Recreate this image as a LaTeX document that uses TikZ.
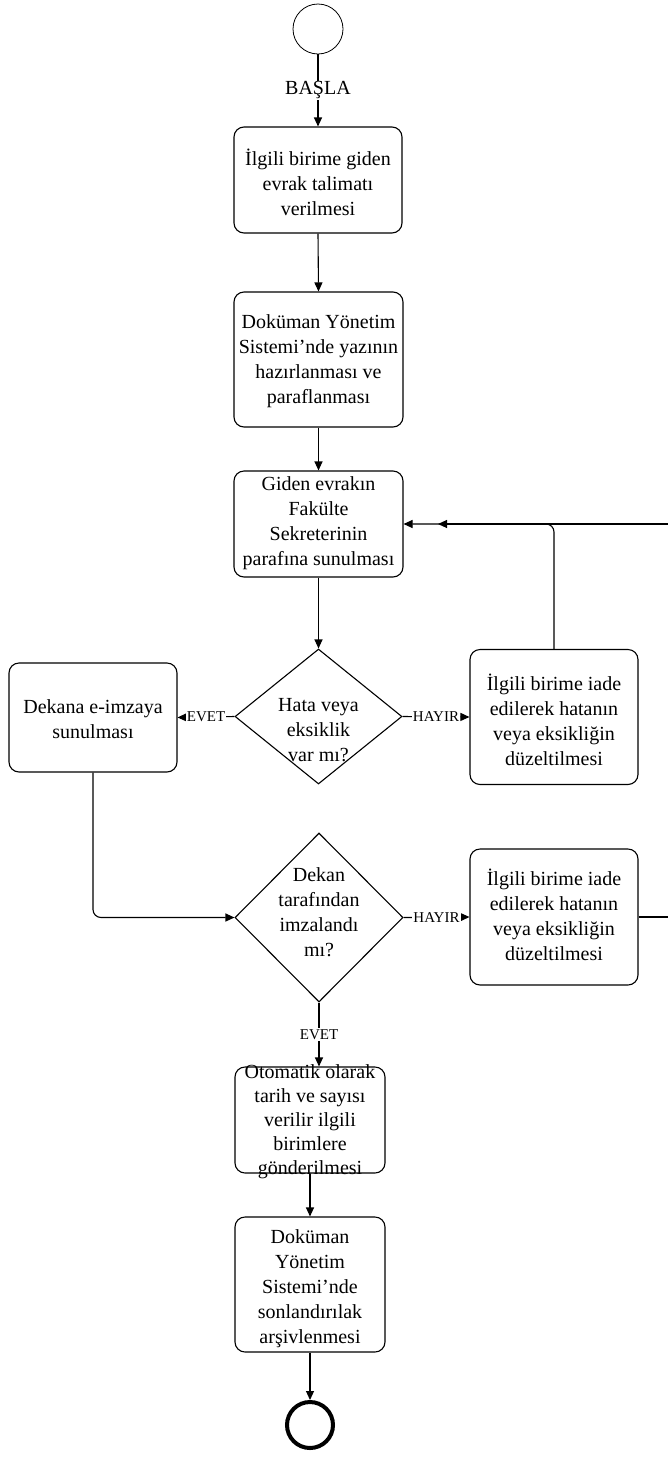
\documentclass[tikz,border=0pt]{standalone}
\usepackage{fontspec}
\setmainfont{Liberation Serif}
\usetikzlibrary{shapes.geometric,arrows.meta}
\begin{document}
\begin{tikzpicture}[x=1pt,y=-1pt,
 box/.style={draw, rounded corners=10pt, line width=1.1pt, inner sep=0pt},
 txt/.style={align=center, font=\fontsize{20}{25}\selectfont, inner sep=0pt},
 dia/.style={draw, diamond, line width=1.1pt, inner sep=0pt},
 lbl/.style={fill=white, font=\fontsize{15}{18}\selectfont, inner sep=1pt},
 arr/.style={line width=1.1pt, -{Triangle[length=9pt,width=8pt]}},
 ln/.style={line width=1.1pt}]
\useasboundingbox (0,0) rectangle (667,1457);
% start / end
\node[circle, draw, minimum size=50pt, line width=0.8pt, inner sep=0pt] (st) at (318,29) {};
\node[circle, draw, minimum size=46pt, line width=4pt, inner sep=0pt] (en) at (310,1425) {};
% boxes
\node[box, minimum width=168pt, minimum height=106pt] (b1) at (318,180) {};
\node[txt] (b1t) at (318,182) {İlgili birime giden\\evrak talimatı\\verilmesi};
\node[box, minimum width=169pt, minimum height=135pt] (b2) at (318.5,359.5) {};
\node[txt] (b2t) at (318.5,361) {Doküman Yönetim\\Sistemi’nde yazının\\hazırlanması ve\\paraflanması};
\node[box, minimum width=169pt, minimum height=106pt] (b3) at (318.5,524) {};
\node[txt] (b3t) at (318.5,523) {Giden evrakın\\Fakülte\\Sekreterinin\\parafına sunulması};
\node[dia, minimum width=167pt, minimum height=135pt] (d1) at (318.5,716.5) {};
\node[txt] (d1t) at (318.5,730) {Hata veya\\eksiklik\\var mı?};
\node[box, minimum width=168pt, minimum height=109pt] (dek) at (93,717.5) {};
\node[txt] (dekt) at (93,719) {Dekana e-imzaya\\sunulması};
\node[box, minimum width=168pt, minimum height=135pt] (i1) at (554,717) {};
\node[txt] (i1t) at (554,720) {İlgili birime iade\\edilerek hatanın\\veya eksikliğin\\düzeltilmesi};
\node[dia, minimum width=168pt, minimum height=169pt] (d2) at (319,917.5) {};
\node[txt] (d2t) at (319,912) {Dekan\\tarafından\\imzalandı\\mı?};
\node[box, minimum width=168pt, minimum height=136pt] (i2) at (554,917) {};
\node[txt] (i2t) at (554,915) {İlgili birime iade\\edilerek hatanın\\veya eksikliğin\\düzeltilmesi};
\node[box, minimum width=150pt, minimum height=106pt] (b5) at (310,1120) {};
\node[txt, font=\fontsize{20}{24}\selectfont] (b5t) at (310,1122) {Otomatik olarak\\tarih ve sayısı\\verilir ilgili\\birimlere\\gönderilmesi};
\node[box, minimum width=150pt, minimum height=135pt] (b6) at (310,1284.5) {};
\node[txt] (b6t) at (310,1289) {Doküman\\Yönetim\\Sistemi’nde\\sonlandırılak\\arşivlenmesi};
% helper coordinates
\coordinate (rt) at (670,917);
\coordinate (rb) at (670,524);
\coordinate (m) at (438,524);
% connectors
\draw[arr] (st.south) -- node[lbl, font=\fontsize{20}{24}\selectfont]{BAŞLA} (b1.north);
\draw[arr] (b1.south) -- (b2.north);
\draw[arr] (b2.south) -- (b3.north);
\draw[arr] (b3.south) -- (d1.north);
\draw[arr] (d1.west) -- node[lbl]{EVET} (dek.east);
\draw[arr] (d1.east) -- node[lbl]{HAYIR} (i1.west);
\draw[arr, rounded corners=8pt] (i1.north) |- (b3.east);
\draw[arr, rounded corners=8pt] (dek.south) |- (d2.west);
\draw[arr] (d2.east) -- node[lbl]{HAYIR} (i2.west);
\draw[arr] (i2.east) -- (rt) -- (rb) -- (m);
\draw[arr] (d2.south) -- node[lbl]{EVET} (d2.south |- b5.north);
\draw[arr] (b5.south) -- (b6.north);
\draw[arr] (b6.south) -- (en.north);
\end{tikzpicture}
\end{document}
